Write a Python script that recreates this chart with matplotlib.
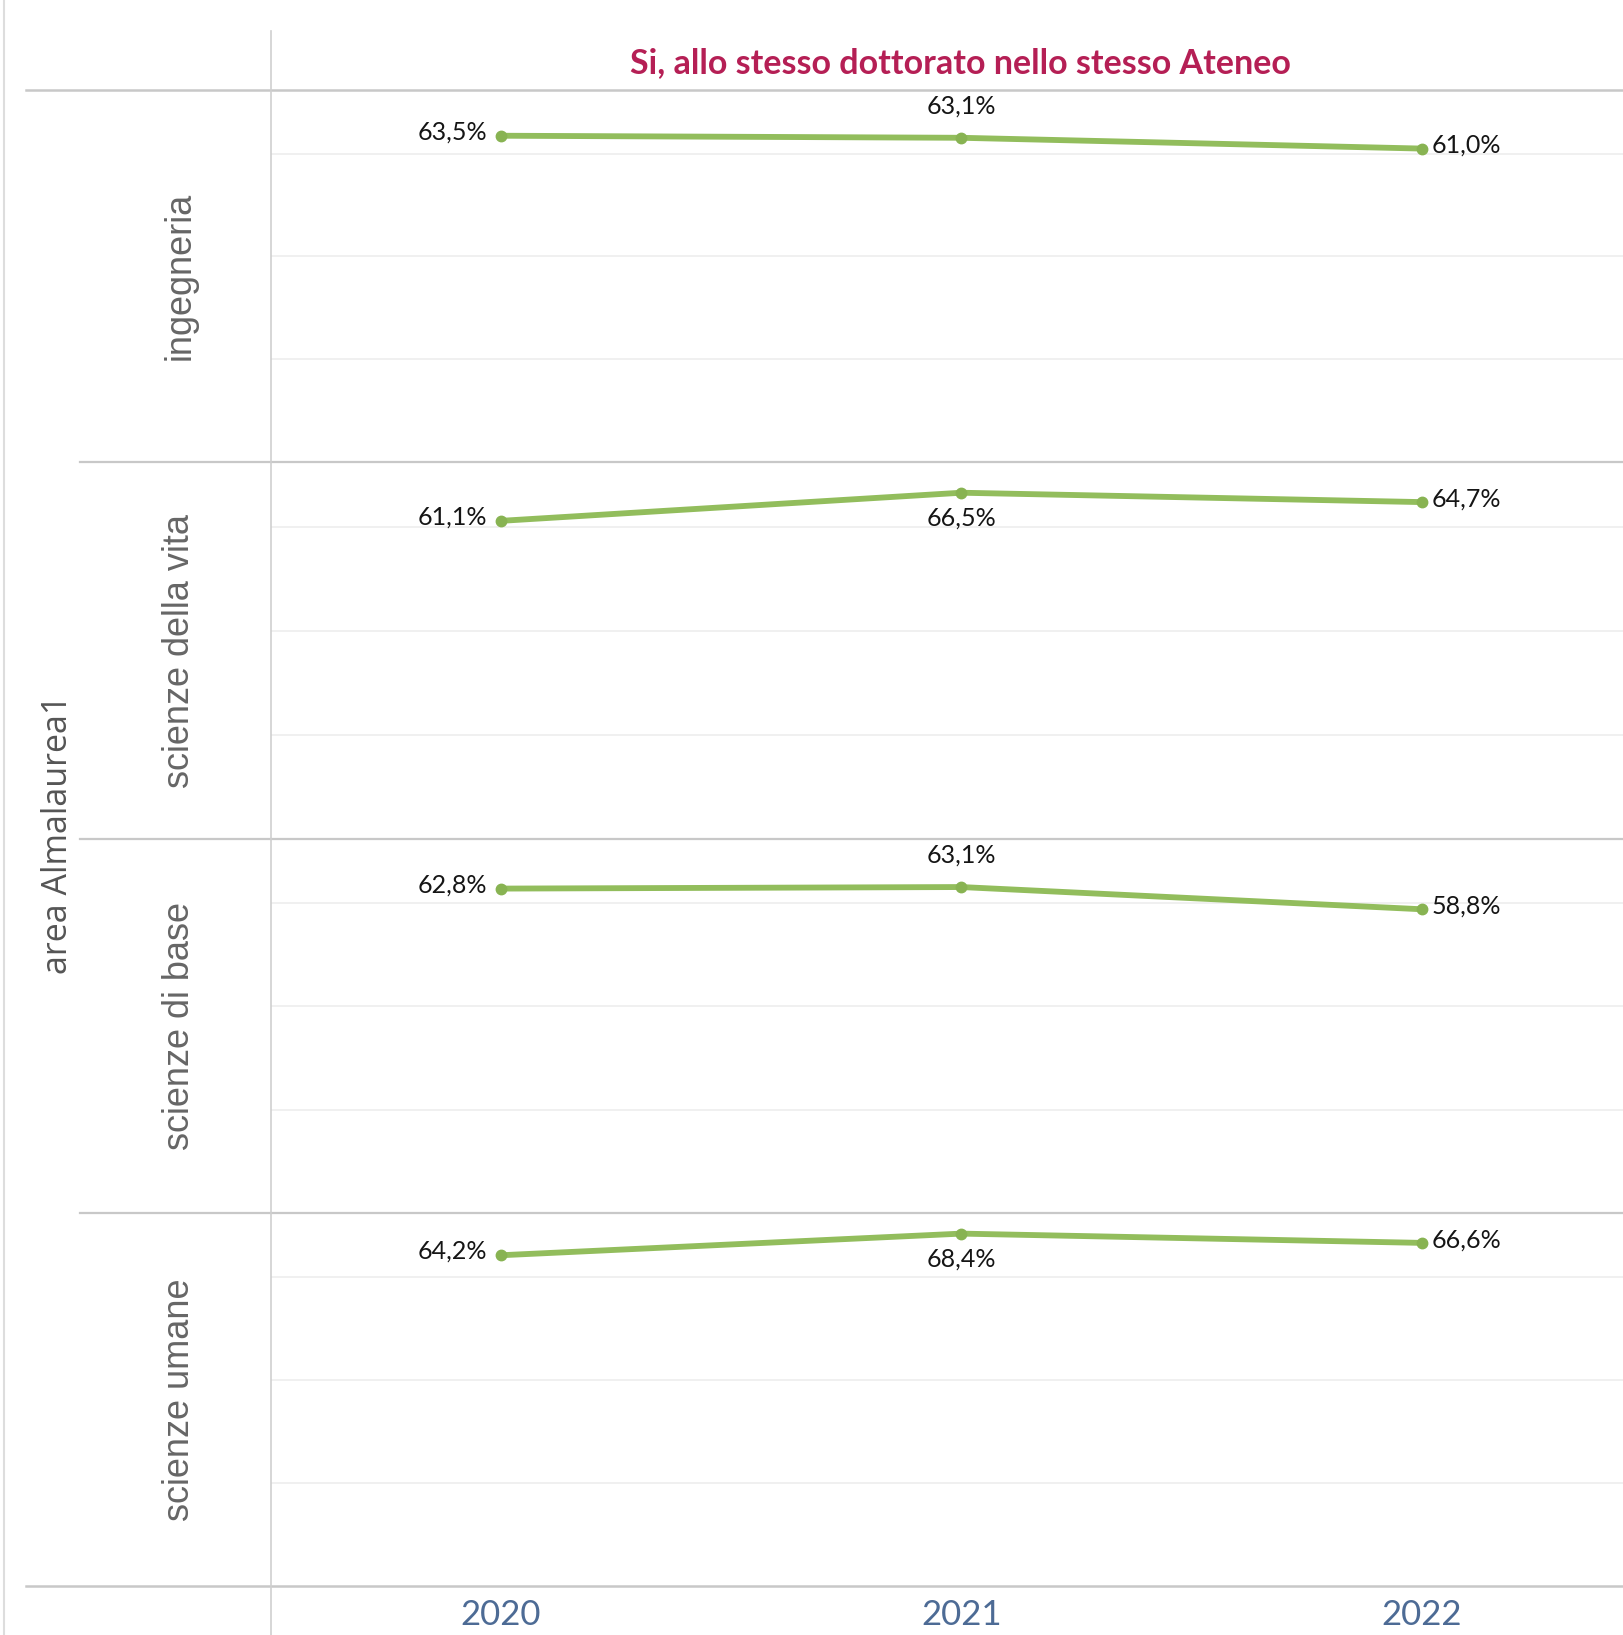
import matplotlib
matplotlib.use("Agg")
import matplotlib.pyplot as plt
from matplotlib.lines import Line2D

# dati
anni = ["2020", "2021", "2022"]
aree = ["ingegneria", "scienze della vita", "scienze di base", "scienze umane"]
ingegneria = [63.5, 63.1, 61.0]
scienze_vita = [61.1, 66.5, 64.7]
scienze_base = [62.8, 63.1, 58.8]
scienze_umane = [64.2, 68.4, 66.6]
pos_etichetta_2021 = ["sopra", "sotto", "sopra", "sotto"]

serie = [ingegneria, scienze_vita, scienze_base, scienze_umane]

W, H = 1624, 1635
VERDE = "#92bd5c"
GRIGIO_LINEA = "#c8c8c8"


def fx(px):
    return px / W


def fy(px):
    return 1 - px / H


def pct(v):
    return f"{v:.1f}%".replace(".", ",")


fig = plt.figure(figsize=(W / 100, H / 100), dpi=100)

x_sin = 271
bordi = [90, 462, 839, 1213, 1586]

for i, (area, valori) in enumerate(zip(aree, serie)):
    top, bot = bordi[i], bordi[i + 1]
    ax = fig.add_axes([fx(x_sin), fy(bot), 1 - fx(x_sin), (bot - top) / H])
    ax.patch.set_alpha(0)
    ax.set_xlim(-0.5, 2.44)
    ax.set_ylim(0, 72.4)
    ax.set_yticks([20, 40, 60])
    ax.grid(axis="y", color="#eeeeee", lw=1.2)
    ax.tick_params(length=0, labelleft=False, labelbottom=False)
    for s in ax.spines.values():
        s.set_visible(False)

    xs = range(len(anni))
    ax.plot(xs, valori, color=VERDE, lw=4.2, marker="o", ms=7.5,
            mfc="#88b352", mec="#88b352", solid_capstyle="round", zorder=3)

    kw = dict(textcoords="offset pixels", fontsize=18, color="#151515",
              family="Lato", va="center")
    ax.annotate(pct(valori[0]), (0, valori[0]), xytext=(-14, 4), ha="right", **kw)
    dy = 32 if pos_etichetta_2021[i] == "sopra" else -25
    ax.annotate(pct(valori[1]), (1, valori[1]), xytext=(0, dy), ha="center", **kw)
    ax.annotate(pct(valori[2]), (2, valori[2]), xytext=(10, 3), ha="left", **kw)

    # etichetta di riga
    fig.text(fx(180), fy((top + bot) / 2), area, rotation=90, ha="center",
             va="center", fontsize=26, color="#666666", family="Liberation Sans")

    if i == len(aree) - 1:
        ax.set_xticks(list(xs), anni)
        ax.tick_params(labelbottom=True, pad=9, labelsize=25, labelcolor="#4d6b95")
        for t in ax.get_xticklabels():
            t.set_family("Lato")

# linee della tabella
fig.add_artist(Line2D([fx(26), 1], [fy(90), fy(90)], color=GRIGIO_LINEA, lw=1.8,
                      transform=fig.transFigure))
for y in bordi[1:-1]:
    fig.add_artist(Line2D([fx(80), 1], [fy(y), fy(y)], color=GRIGIO_LINEA, lw=1.6,
                          transform=fig.transFigure))
fig.add_artist(Line2D([fx(26), 1], [fy(1586), fy(1586)], color=GRIGIO_LINEA, lw=1.8,
                      transform=fig.transFigure))
fig.add_artist(Line2D([fx(x_sin), fx(x_sin)], [fy(31), 0], color="#cfcfcf", lw=1.2,
                      transform=fig.transFigure))
fig.add_artist(Line2D([fx(4), fx(4)], [1, 0], color="#dddddd", lw=1.5,
                      transform=fig.transFigure))

# intestazioni
fig.text(fx(960), fy(63), "Si, allo stesso dottorato nello stesso Ateneo",
         ha="center", va="center", fontsize=24.5, fontweight="bold",
         color="#b51f55", family="Lato")
fig.text(fx(58), fy(834), "area Almalaurea1", rotation=90, ha="center",
         va="center", fontsize=24.5, color="#555555", family="Open Sans")

fig.savefig("out.png", dpi=100)
